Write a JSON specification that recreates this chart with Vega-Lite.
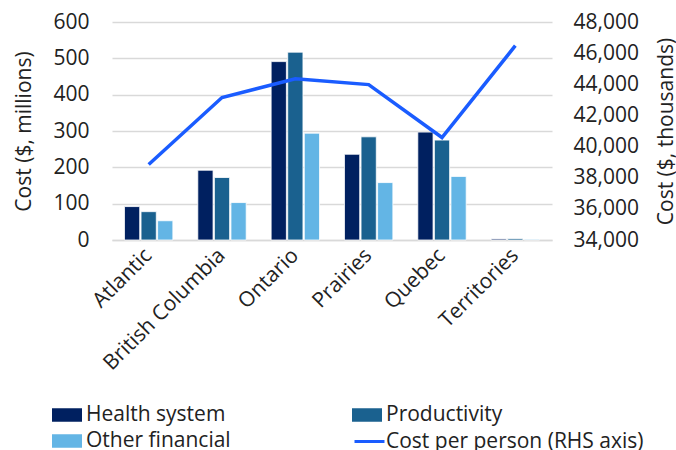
{
  "$schema": "https://vega.github.io/schema/vega-lite/v6.json",
  "width": 440,
  "height": 218,
  "autosize": {"type": "none"},
  "padding": {"left": 112, "top": 22, "right": 124, "bottom": 210},
  "background": "white",
  "config": {
    "view": {"stroke": null},
    "font": "Open Sans"
  },
  "datasets": {
    "bars": [
      {"region": "Atlantic", "series": "Health system", "value": 92},
      {"region": "Atlantic", "series": "Productivity", "value": 78},
      {"region": "Atlantic", "series": "Other financial", "value": 53},
      {"region": "British Columbia", "series": "Health system", "value": 192},
      {"region": "British Columbia", "series": "Productivity", "value": 172},
      {"region": "British Columbia", "series": "Other financial", "value": 103},
      {"region": "Ontario", "series": "Health system", "value": 491},
      {"region": "Ontario", "series": "Productivity", "value": 517},
      {"region": "Ontario", "series": "Other financial", "value": 294},
      {"region": "Prairies", "series": "Health system", "value": 236},
      {"region": "Prairies", "series": "Productivity", "value": 284},
      {"region": "Prairies", "series": "Other financial", "value": 158},
      {"region": "Quebec", "series": "Health system", "value": 297},
      {"region": "Quebec", "series": "Productivity", "value": 275},
      {"region": "Quebec", "series": "Other financial", "value": 175},
      {"region": "Territories", "series": "Health system", "value": 3},
      {"region": "Territories", "series": "Productivity", "value": 4},
      {"region": "Territories", "series": "Other financial", "value": 2}
    ],
    "line": [
      {"region": "Atlantic", "cost": 38850, "label": "Cost per person (RHS axis)"},
      {"region": "British Columbia", "cost": 43150, "label": "Cost per person (RHS axis)"},
      {"region": "Ontario", "cost": 44350, "label": "Cost per person (RHS axis)"},
      {"region": "Prairies", "cost": 43980, "label": "Cost per person (RHS axis)"},
      {"region": "Quebec", "cost": 40580, "label": "Cost per person (RHS axis)"},
      {"region": "Territories", "cost": 46480, "label": "Cost per person (RHS axis)"}
    ]
  },
  "layer": [
    {
      "data": {"name": "bars"},
      "mark": {"type": "bar", "stroke": "white", "strokeWidth": 0.8},
      "encoding": {
        "x": {"field": "region", "type": "nominal", "sort": null,
              "scale": {"paddingInner": 0.34, "paddingOuter": 0.17},
              "axis": {"title": null, "labelAngle": -45, "labelAlign": "right", "labelBaseline": "middle", "labelPadding": 12, "labelFontSize": 21, "labelColor": "#222222", "labelFont": "Open Sans", "ticks": false, "domainColor": "#d9d9d9", "domainWidth": 1.5}},
        "xOffset": {"field": "series", "type": "nominal", "sort": ["Health system", "Productivity", "Other financial"], "scale": {"paddingInner": 0.08}},
        "y": {"field": "value", "type": "quantitative",
              "scale": {"domain": [0, 600]},
              "axis": {"title": "Cost ($, millions)", "orient": "left", "values": [0, 100, 200, 300, 400, 500, 600], "labelOverlap": false, "domain": false, "ticks": false, "gridColor": "#d9d9d9", "gridWidth": 1.5, "labelPadding": 23, "titlePadding": 18, "labelFontSize": 21, "titleFontSize": 21, "titleFontWeight": "normal", "labelColor": "#222222", "titleColor": "#222222", "labelFont": "Open Sans", "titleFont": "Open Sans"}},
        "fill": {"field": "series", "type": "nominal",
                  "scale": {"domain": ["Health system", "Productivity", "Other financial"],
                            "range": ["#002060", "#1a618f", "#63b5e5"]},
                  "legend": {"title": null, "orient": "none", "legendX": -60, "legendY": 378, "direction": "horizontal", "columns": 2, "columnPadding": 121, "rowPadding": 1, "labelLimit": 400,
                             "symbolType": "M-1,-0.45H1V0.45H-1Z", "symbolSize": 900, "symbolStrokeWidth": 0, "labelOffset": 4, "labelFontSize": 21, "labelColor": "#222222", "labelFont": "Open Sans"}}
      }
    },
    {
      "data": {"name": "line"},
      "mark": {"type": "line", "strokeWidth": 3.5},
      "encoding": {
        "x": {"field": "region", "type": "nominal", "sort": null},
        "y": {"field": "cost", "type": "quantitative",
              "scale": {"domain": [34000, 48000], "zero": false},
              "axis": {"title": "Cost ($, thousands)", "orient": "right", "values": [34000, 36000, 38000, 40000, 42000, 44000, 46000, 48000], "format": ",.0f", "labelOverlap": false, "grid": false, "domain": false, "ticks": false, "labelPadding": 21, "titlePadding": 17, "titleAngle": 270, "titleBaseline": "top", "labelFontSize": 21, "titleFontSize": 21, "titleFontWeight": "normal", "labelColor": "#222222", "titleColor": "#222222", "labelFont": "Open Sans", "titleFont": "Open Sans"}},
        "stroke": {"field": "label", "type": "nominal",
                   "scale": {"domain": ["Cost per person (RHS axis)"], "range": ["#1a5cff"]},
                   "legend": {"title": null, "orient": "none", "legendX": 241, "legendY": 403, "labelLimit": 400, "symbolType": "stroke", "symbolSize": 900, "symbolStrokeWidth": 3, "labelOffset": 0, "labelFontSize": 21, "labelColor": "#222222", "labelFont": "Open Sans"}}
      }
    }
  ],
  "resolve": {"scale": {"y": "independent"}}
}
